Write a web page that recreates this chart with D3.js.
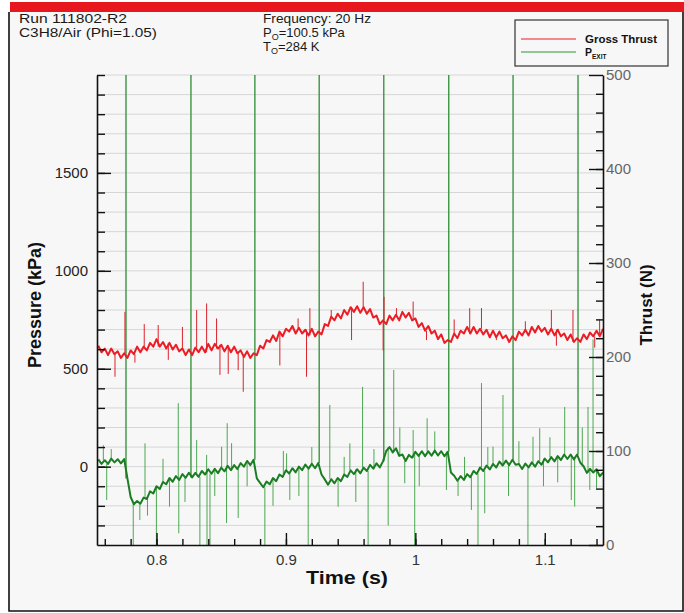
<!DOCTYPE html>
<html><head><meta charset="utf-8">
<script src="https://cdn.jsdelivr.net/npm/d3@7"></script>
<style>
body{margin:0;background:#fff}
svg{display:block}
text{font-family:"Liberation Sans",Arial,Helvetica,sans-serif}
</style>
</head><body>
<script>
// ---------------- DATA ----------------
const sampleStart = 0.755;      // s, first sample time
const sampleStep = 0.0025;      // s, sample interval

// Gross thrust (N), one value per sample
const thrustValues = [
 212,205,209,202,209,203,206,199,204,199,
 207,203,211,205,211,207,215,211,219,211,
 216,209,215,208,213,206,209,202,208,202,
 210,205,211,205,214,207,214,209,213,206,
 212,205,211,204,207,200,206,199,204,202,
 212,209,218,216,223,217,227,222,230,227,
 233,225,231,225,229,223,230,222,227,224,
 235,233,243,239,246,241,250,245,253,248,
 254,247,253,246,251,242,244,235,239,235,
 244,239,245,239,248,242,247,239,241,232,
 236,228,233,225,228,219,224,215,218,216,
 225,220,228,225,232,225,232,225,230,224,
 229,221,228,221,227,220,223,216,222,218,
 227,223,229,223,232,226,233,227,231,224,
 230,223,229,222,225,218,224,216,220,216,
 224,219,226,222,228,222,230];
// Thrust spikes
const thrustSpikeTimes = [0.7679,0.7756,0.7833,0.7905,0.8013,0.8091,0.8200,0.8310,0.8387,0.8464,0.8490,0.8554,0.8631,0.8670,0.8953,0.9094,0.9159,0.9185,0.9350,0.9507,0.9597,0.9751,0.9758,0.9854,0.9983,1.0086,1.0300,1.0420,1.0511,1.0626,1.0850,1.1051,1.1090,1.1218,1.1386,1.1424];
const thrustSpikeValues = [179,248,194,235,234,197,232,250,257,241,181,182,186,163,191,241,179,252,250,218,280,207,264,252,259,218,240,252,252,218,238,250,212,250,210,240];

// Exit pressure (kPa), one value per sample
const pexitValues = [
 37,14,33,14,41,22,38,17,39,-60,
 -155,-192,-175,-189,-158,-165,-126,-137,-100,-114,
 -78,-90,-58,-77,-48,-68,-38,-57,-31,-55,
 -32,-52,-22,-40,-13,-36,-11,-33,-5,-24,
 4,-18,8,-12,18,0,29,8,35,-60,
 -83,-105,-76,-90,-58,-74,-40,-52,-18,-35,
 -8,-29,0,-18,11,-10,15,-8,19,-40,
 -65,-92,-64,-85,-58,-74,-40,-52,-19,-38,
 -13,-34,-5,-22,9,-10,17,-4,27,80,
 100,73,94,55,62,29,60,46,76,55,
 79,54,78,56,82,57,79,53,76,-30,
 -46,-72,-48,-68,-38,-54,-22,-37,-4,-22,
 6,-14,14,-4,26,6,31,8,35,10,
 14,-12,16,-4,22,0,28,10,41,22,
 49,27,54,34,62,39,62,37,62,20,
 2,-32,-11,-30,-13,-49,-30];
// Exit pressure spikes
const pexitSpikeTimes = [0.7589,0.7615,0.7650,0.7820,0.7871,0.7911,0.7930,0.7999,0.8050,0.8100,0.8168,0.8172,0.8220,0.8310,0.8335,0.8387,0.8390,0.8413,0.8450,0.8503,0.8541,0.8546,0.8580,0.8631,0.8700,0.8837,0.8900,0.8980,0.9005,0.9030,0.9100,0.9172,0.9200,0.9339,0.9403,0.9450,0.9494,0.9540,0.9592,0.9635,0.9680,0.9790,0.9833,0.9880,0.9918,0.9983,0.9995,1.0030,1.0091,1.0150,1.0240,1.0330,1.0380,1.0433,1.0484,1.0511,1.0536,1.0560,1.0600,1.0677,1.0720,1.0800,1.0870,1.0909,1.0961,1.0990,1.1040,1.1100,1.1154,1.1205,1.1231,1.1290,1.1334,1.1348,1.1373,1.1400];
const pexitSpikeValues = [110,-170,90,-420,-272,119,-250,-420,40,-204,324,-340,-180,136,-420,60,-420,-420,-150,102,-288,222,120,-262,-100,-420,-200,80,68,-170,-150,-420,100,315,-204,50,119,-180,407,-420,90,-300,494,200,-85,187,-420,-100,247,180,-119,-150,50,-221,-420,427,-238,100,102,366,-150,130,-420,153,196,-100,150,-80,305,-170,-204,200,305,-119,650,-110];
// Detonation (20 Hz) pressure spikes, off scale
const detonationTimes = [0.7764,0.8266,0.8760,0.9257,0.9756,1.0258,1.0755,1.1257];
const detonationValues = [2100,2100,2100,2100,2100,2100,2100,2100];

// Axes
const timeTickLabels = [0.8,0.9,1.0,1.1];
const pressureTickLabels = [0,500,1000,1500];
const thrustTickLabels = [0,100,200,300,400,500];
const timeDomain = [0.754,1.145];
const pressureDomain = [-400,2000];
const thrustDomain = [0,500];

// Header / legend
const headerLeft = ["Run 111802-R2","C3H8/Air (Phi=1.05)"];
const headerFreq = "Frequency: 20 Hz";
const headerP = ["P","O","=100.5 kPa"];
const headerT = ["T","O","=284 K"];
const seriesNames = ["Gross Thrust","P","EXIT"];

// ---------------- DRAW ----------------
const W = 684, H = 613;
const L = 97, R = 603, T = 75, B = 545;
const red = "#ec1c24", green = "#1b7d22", spikeGreen = "#2f9a35";

const svg = d3.select("body").append("svg").attr("width", W).attr("height", H);
svg.append("rect").attr("width", W).attr("height", H).attr("fill", "#fff");
svg.append("rect").attr("x", 9).attr("y", 11).attr("width", 674).attr("height", 600).attr("fill", "#f7f7f7");
svg.append("rect").attr("x", 10).attr("y", 2).attr("width", 674).attr("height", 10).attr("fill", "#e8161d");
svg.append("path").attr("d", "M9,12V611H683V12").attr("fill", "none").attr("stroke", "#111").attr("stroke-width", 1.6);

const x = d3.scaleLinear().domain(timeDomain).range([L, R]);
const yP = d3.scaleLinear().domain(pressureDomain).range([B, T]);
const yT = d3.scaleLinear().domain(thrustDomain).range([B, T]);

// grid
svg.append("g").selectAll("line").data(d3.range(-300, 2001, 100)).join("line")
  .attr("x1", L).attr("x2", R).attr("y1", d => yP(d)).attr("y2", d => yP(d))
  .attr("stroke", "#d6d6d6").attr("stroke-width", 1);

svg.append("clipPath").attr("id", "clip").append("rect")
  .attr("x", L).attr("y", T).attr("width", R - L).attr("height", B - T);
const plot = svg.append("g").attr("clip-path", "url(#clip)");

const times = pexitValues.map((_, i) => sampleStart + i * sampleStep);
const nearest = (vals, t) => vals[Math.max(0, Math.min(vals.length - 1, Math.round((t - sampleStart) / sampleStep)))];

// P_exit
const lineP = d3.line().x(d => x(d[0])).y(d => yP(d[1]));
plot.append("g").selectAll("path").data(pexitSpikeTimes.map((t, i) => [[t, nearest(pexitValues, t)], [t, pexitSpikeValues[i]]]))
  .join("path").attr("d", lineP).attr("stroke", spikeGreen).attr("stroke-width", 1).attr("fill", "none").attr("opacity", 0.85);
plot.append("g").selectAll("path").data(detonationTimes.map((t, i) => [[t, nearest(pexitValues, t)], [t, detonationValues[i]]]))
  .join("path").attr("d", lineP).attr("stroke", "#3b9440").attr("stroke-width", 1.4).attr("fill", "none");
plot.append("path").datum(times.map((t, i) => [t, pexitValues[i]])).attr("d", lineP)
  .attr("stroke", green).attr("stroke-width", 2).attr("fill", "none").attr("stroke-linejoin", "round");

// Thrust
const lineT = d3.line().x(d => x(d[0])).y(d => yT(d[1]));
plot.append("g").selectAll("path").data(thrustSpikeTimes.map((t, i) => [[t, nearest(thrustValues, t)], [t, thrustSpikeValues[i]]]))
  .join("path").attr("d", lineT).attr("stroke", "#d8232a").attr("stroke-width", 1).attr("fill", "none");
plot.append("path").datum(times.map((t, i) => [t, thrustValues[i]])).attr("d", lineT)
  .attr("stroke", red).attr("stroke-width", 2).attr("fill", "none").attr("stroke-linejoin", "round");

// Axes
function styleAxis(g, labelColor) {
  g.selectAll("path.domain").attr("stroke", "#111").attr("stroke-width", 1.6);
  g.selectAll(".tick line").attr("stroke", "#111").attr("stroke-width", 1.4);
  g.selectAll("text").attr("font-size", 15).attr("fill", labelColor).attr("font-family", "Liberation Sans, Arial, sans-serif");
}
// left
const gl = svg.append("g").attr("transform", `translate(${L},0)`)
  .call(d3.axisLeft(yP).tickValues(d3.range(-300, 2001, 100)).tickSize(-8).tickFormat("").tickSizeOuter(0));
styleAxis(gl, "#222");
const glM = svg.append("g").attr("transform", `translate(${L},0)`)
  .call(d3.axisLeft(yP).tickValues(pressureTickLabels).tickSize(-14).tickPadding(9).tickFormat(d3.format("d")).tickSizeOuter(0));
styleAxis(glM, "#222"); glM.select("path.domain").remove();
// right
const gr = svg.append("g").attr("transform", `translate(${R},0)`)
  .call(d3.axisRight(yT).tickValues(d3.range(20, 500, 20)).tickSize(-7).tickFormat("").tickSizeOuter(0));
styleAxis(gr, "#555");
const grM = svg.append("g").attr("transform", `translate(${R},0)`)
  .call(d3.axisRight(yT).tickValues(thrustTickLabels).tickSize(-14).tickPadding(3).tickFormat(d3.format("d")).tickSizeOuter(0));
styleAxis(grM, "#666"); grM.select("path.domain").remove();
// bottom
const gb = svg.append("g").attr("transform", `translate(0,${B})`)
  .call(d3.axisBottom(x).tickValues(d3.range(0.76, 1.145, 0.02)).tickSize(-6).tickFormat("").tickSizeOuter(0));
styleAxis(gb, "#333");
const gbM = svg.append("g").attr("transform", `translate(0,${B})`)
  .call(d3.axisBottom(x).tickValues(timeTickLabels).tickSize(-12).tickPadding(9).tickFormat(d3.format("~g")).tickSizeOuter(0));
styleAxis(gbM, "#333"); gbM.select("path.domain").remove();

// Axis titles
svg.append("text").attr("x", 347).attr("y", 584).attr("text-anchor", "middle")
  .attr("font-size", 18).attr("font-weight", "bold").attr("fill", "#111")
  .attr("textLength", 82).attr("lengthAdjust", "spacingAndGlyphs").text("Time (s)");
svg.append("text").attr("transform", "translate(41,305) rotate(-90)").attr("text-anchor", "middle")
  .attr("font-size", 18).attr("font-weight", "bold").attr("fill", "#111").text("Pressure (kPa)");
svg.append("text").attr("transform", "translate(652,305) rotate(-90)").attr("text-anchor", "middle")
  .attr("font-size", 17).attr("font-weight", "bold").attr("fill", "#111").text("Thrust (N)");

// Header
const hdr = svg.append("g").attr("fill", "#1a1a1a").attr("font-size", 13);
hdr.append("text").attr("x", 19).attr("y", 23).attr("textLength", 108).attr("lengthAdjust", "spacingAndGlyphs").text(headerLeft[0]);
hdr.append("text").attr("x", 19).attr("y", 37).attr("textLength", 138).attr("lengthAdjust", "spacingAndGlyphs").text(headerLeft[1]);
hdr.append("text").attr("x", 263).attr("y", 23).attr("textLength", 108).attr("lengthAdjust", "spacingAndGlyphs").text(headerFreq);
function subText(g, xx, yy, parts) {
  const t = g.append("text").attr("x", xx).attr("y", yy);
  t.append("tspan").text(parts[0]);
  t.append("tspan").attr("font-size", 9).attr("dy", 3).text(parts[1]);
  t.append("tspan").attr("dy", -3).text(parts[2]);
  return t;
}
subText(hdr, 263, 37, headerP);
subText(hdr, 263, 51, headerT);

// Legend
const lg = svg.append("g");
lg.append("rect").attr("x", 515).attr("y", 20).attr("width", 153).attr("height", 46)
  .attr("fill", "none").attr("stroke", "#333").attr("stroke-width", 1.2);
lg.append("line").attr("x1", 521).attr("x2", 576).attr("y1", 39).attr("y2", 39).attr("stroke", red).attr("stroke-width", 1.2);
lg.append("line").attr("x1", 521).attr("x2", 576).attr("y1", 52).attr("y2", 52).attr("stroke", "#2a9a30").attr("stroke-width", 1.2);
lg.append("text").attr("x", 585).attr("y", 43).attr("font-size", 10.5).attr("font-weight", "bold").attr("fill", "#111")
  .attr("textLength", 72).attr("lengthAdjust", "spacingAndGlyphs").text(seriesNames[0]);
const pt = lg.append("text").attr("x", 585).attr("y", 56).attr("font-size", 10.5).attr("font-weight", "bold").attr("fill", "#111");
pt.append("tspan").text(seriesNames[1]);
pt.append("tspan").attr("font-size", 6.5).attr("dy", 2.5).text(seriesNames[2]);
</script>
</body></html>
